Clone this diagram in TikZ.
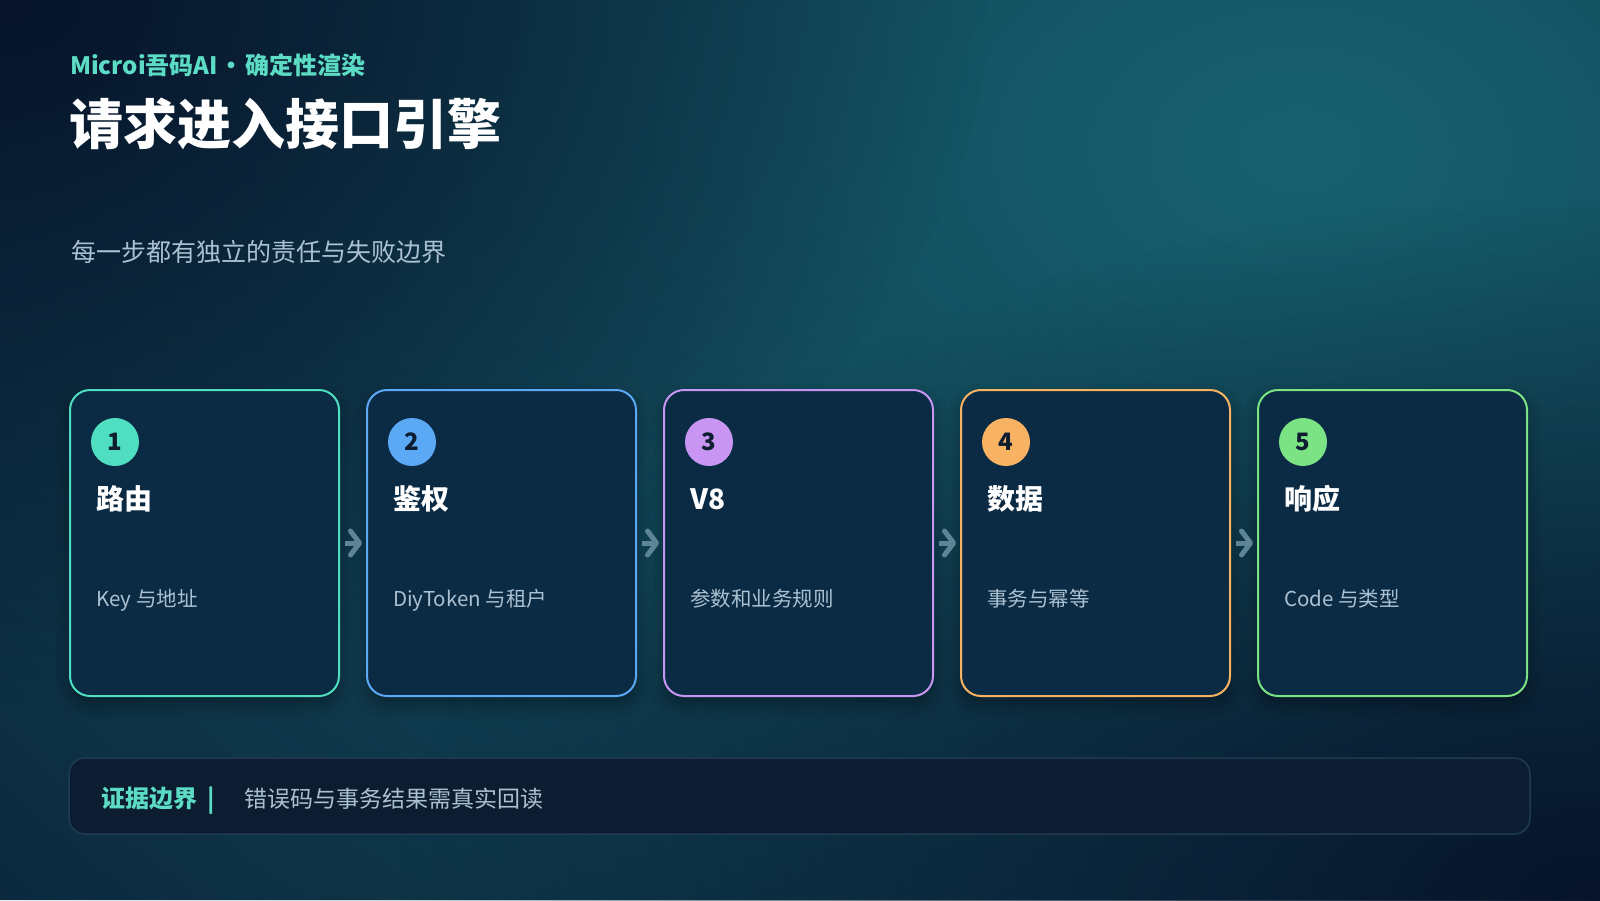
\documentclass[tikz,border=0pt]{standalone}
\usepackage{fontspec}
\setmainfont{Noto Sans CJK SC}
\usetikzlibrary{arrows.meta,fadings,shadows.blur}

\definecolor{bgbase}{HTML}{0B2339}
\definecolor{bgdark}{HTML}{07142A}
\definecolor{bgteal}{HTML}{17616F}
\definecolor{cardfill}{HTML}{0B2B45}
\definecolor{stepA}{HTML}{4FDEC0}
\definecolor{stepB}{HTML}{5BA8F5}
\definecolor{stepC}{HTML}{C895F2}
\definecolor{stepD}{HTML}{F7B262}
\definecolor{stepE}{HTML}{7BE383}
\definecolor{accent}{HTML}{5CDCC4}
\definecolor{muted}{HTML}{ABC1D1}
\definecolor{flowgray}{HTML}{5E8597}
\definecolor{badgetext}{HTML}{0C1E30}
\definecolor{panelfill}{HTML}{0C1C31}
\definecolor{panelline}{HTML}{1F3A51}

\tikzfading[name=glow, inner color=transparent!0, outer color=transparent!100]

\tikzset{
  card/.style={draw, line width=2, rounded corners=20, fill=cardfill,
    minimum width=269, minimum height=306, inner sep=0,
    blur shadow={shadow xshift=0pt, shadow yshift=-8pt,
      shadow blur radius=14pt, shadow opacity=35}},
  badge/.style={circle, minimum size=48, inner sep=0,
    font=\bfseries\fontsize{24}{28}\selectfont, text=badgetext},
  stephead/.style={anchor=base west, inner sep=0, text=white,
    font=\bfseries\fontsize{28}{32}\selectfont},
  stepdesc/.style={anchor=base west, inner sep=0, text=muted,
    font=\fontsize{20.5}{24}\selectfont},
  flow/.style={draw=flowgray, line width=5, shorten <=5, shorten >=4,
    -{Straight Barb[length=9,width=24,round]}},
  panel/.style={draw=panelline, line width=1.5, rounded corners=16,
    fill=panelfill, minimum width=1461, minimum height=76, inner sep=0},
}

\begin{document}
\begin{tikzpicture}[x=1pt,y=-1pt]
\useasboundingbox (0,0) rectangle (1600,900);

% background
\begin{scope}
  \clip (0,0) rectangle (1600,900);
  \fill[bgbase] (0,0) rectangle (1600,900);
  \fill[bgteal, path fading=glow] (1300,150) ellipse (1900 and 1300);
  \fill[bgdark, path fading=glow] (0,0) ellipse (1000 and 700);
  \fill[bgdark, path fading=glow] (1600,900) ellipse (1200 and 700);
\end{scope}

% header
\node[anchor=base west, inner sep=0, text=accent,
  font=\bfseries\fontsize{24}{28}\selectfont] (brand) at (70,74)
  {Microi吾码AI\hspace{2pt}•\hspace{2pt}确定性渲染};
\node[anchor=base west, inner sep=0, text=white,
  font=\bfseries\fontsize{54}{62}\selectfont] (title) at (69,144)
  {请求进入接口引擎};
\node[anchor=base west, inner sep=0, text=muted,
  font=\fontsize{25}{30}\selectfont] (subtitle) at (71,261)
  {每一步都有独立的责任与失败边界};

% steps
\foreach \i/\col/\num/\head/\desc in {
    0/stepA/1/路由/Key 与地址,
    1/stepB/2/鉴权/DiyToken 与租户,
    2/stepC/3/V8/参数和业务规则,
    3/stepD/4/数据/事务与幂等,
    4/stepE/5/响应/Code 与类型}{
  \pgfmathsetmacro{\dx}{297*\i}
  \node[card, draw=\col] (card\num) at (204.5+\dx,543) {};
  \node[badge, fill=\col] (badge\num) at (115+\dx,442) {\num};
  \node[stephead] (head\num) at (96+\dx,509) {\head};
  \node[stepdesc] (desc\num) at (96+\dx,606) {\desc};
}
\foreach \a/\b in {1/2,2/3,3/4,4/5}
  \draw[flow] (card\a) -- (card\b);

% evidence bar
\node[panel] (evidence) at (799.5,796) {};
\node[anchor=base west, inner sep=0, text=accent,
  font=\bfseries\fontsize{24}{28}\selectfont] (evlabel) at (101,807)
  {证据边界\hspace{10pt}|};
\node[anchor=base west, inner sep=0, text=muted,
  font=\fontsize{23}{28}\selectfont] (evtext) at (244,807)
  {错误码与事务结果需真实回读};

\end{tikzpicture}
\end{document}
